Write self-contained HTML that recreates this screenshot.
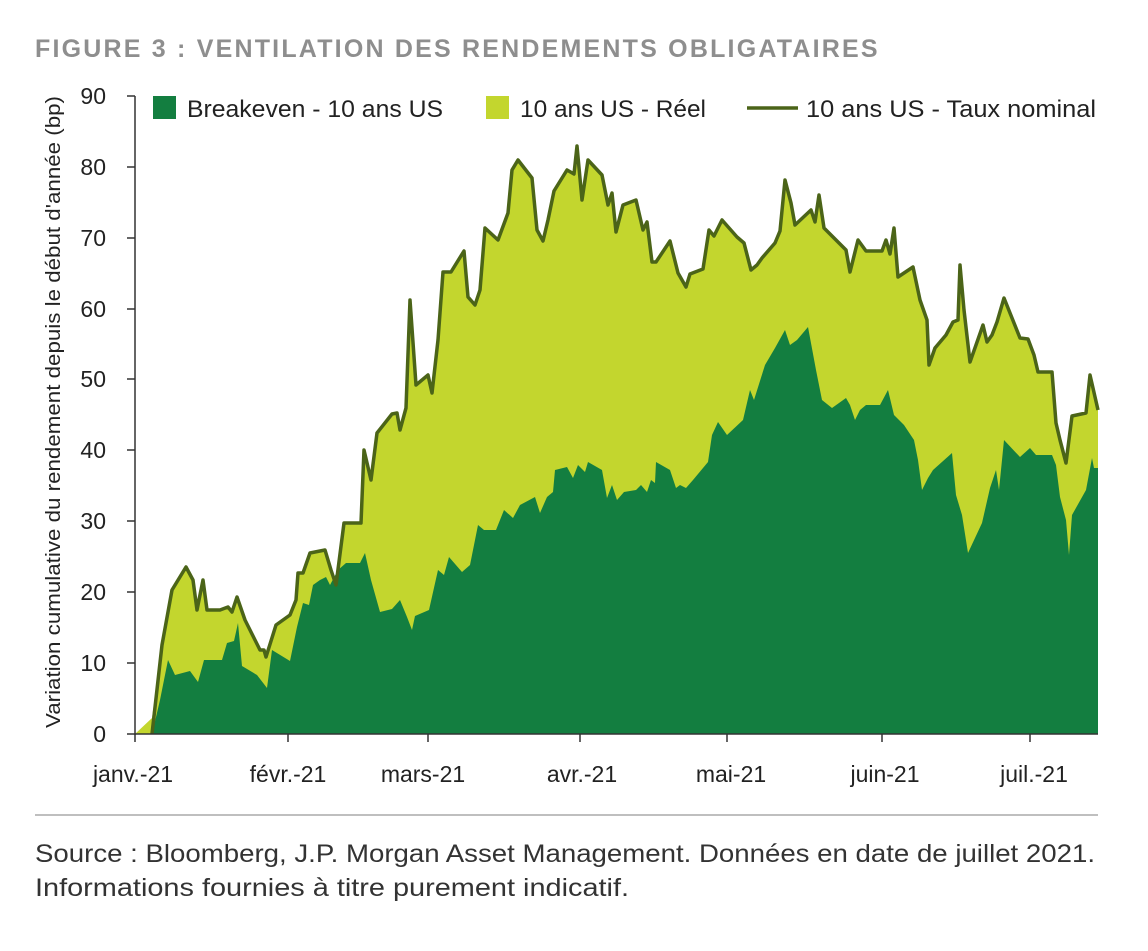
<!DOCTYPE html><html><head><style>
body{margin:0;background:#fff;width:1148px;height:946px;overflow:hidden;font-family:"Liberation Sans",sans-serif;}
</style></head><body>
<svg width="1148" height="946" xmlns="http://www.w3.org/2000/svg" style="font-family:'Liberation Sans',sans-serif">
<text x="35" y="57" font-size="25" font-weight="bold" fill="#8e8e8e" letter-spacing="2.2">FIGURE 3 : VENTILATION DES RENDEMENTS OBLIGATAIRES</text>
<polygon fill="#c3d62e" points="135,734 152,718 162,645 172,590 186,567 193,580 197,610 203,580 207,610 220,610 228,607 232,612 237,597 245,620 255,640 260,650 264,650 266,657 276,625 290,615 296,600 298,573 303,573 310,553 325,550 331,570 336,585 344,523 361,523 364,450 371,480 377,433 392,414 397,413 400,430 406,408 410,300 416,385 428,375 432,393 438,340 443,272 451,272 464,251 468,297 475,305 480,290 485,228 498,240 508,213 512,170 518,160 532,178 537,230 543,241 548,220 554,191 567,170 574,174 577,146 582,200 588,160 602,175 608,205 612,193 616,232 623,205 636,200 643,230 647,222 652,262 656,262 670,241 678,273 686,287 690,274 703,269 709,230 714,236 722,220 737,237 744,243 751,270 757,265 762,258 775,243 780,231 785,180 791,203 795,225 811,210 815,222 819,195 824,228 833,237 846,250 850,272 858,240 866,251 882,251 886,240 890,254 894,228 898,277 913,267 920,300 927,320 929,365 935,348 946,335 953,322 958,320 960,265 964,310 970,362 976,345 983,325 987,342 992,335 997,322 1004,298 1020,338 1028,339 1034,355 1038,372 1052,372 1056,423 1060,440 1066,463 1072,416 1086,413 1090,375 1098,410 1098,734"/>
<polygon fill="#137e40" points="135,734 152,734 160,700 168,660 175,675 190,671 198,682 204,660 222,660 227,643 234,641 238,623 242,666 257,675 267,688 272,650 290,661 297,627 303,603 309,605 313,585 320,580 326,577 330,585 338,570 346,563 360,563 365,553 371,580 380,612 392,609 400,600 407,617 412,630 415,616 429,610 438,570 444,575 449,557 462,572 470,565 478,525 484,530 496,530 504,510 513,518 520,505 535,497 540,513 547,497 553,492 555,470 567,467 573,478 578,465 585,472 588,462 602,470 607,498 612,485 617,500 624,492 636,490 641,485 647,492 651,480 655,483 656,462 670,470 676,488 680,485 686,488 693,480 708,462 712,435 718,422 727,435 743,420 750,390 754,400 765,365 775,348 785,330 790,345 797,340 808,327 816,370 822,400 832,408 846,398 850,405 855,420 860,410 866,405 880,405 888,390 894,415 904,425 914,440 918,460 922,490 928,478 933,470 952,453 956,495 962,515 968,553 982,523 990,488 996,470 999,490 1004,440 1020,457 1030,448 1036,455 1052,455 1056,465 1060,497 1066,520 1069,555 1072,515 1086,490 1092,458 1094,468 1098,468 1098,734"/>
<polyline fill="none" stroke="#4b6418" stroke-width="3.5" stroke-linejoin="round" points="152,734 162,645 172,590 186,567 193,580 197,610 203,580 207,610 220,610 228,607 232,612 237,597 245,620 255,640 260,650 264,650 266,657 276,625 290,615 296,600 298,573 303,573 310,553 325,550 331,570 336,585 344,523 361,523 364,450 371,480 377,433 392,414 397,413 400,430 406,408 410,300 416,385 428,375 432,393 438,340 443,272 451,272 464,251 468,297 475,305 480,290 485,228 498,240 508,213 512,170 518,160 532,178 537,230 543,241 548,220 554,191 567,170 574,174 577,146 582,200 588,160 602,175 608,205 612,193 616,232 623,205 636,200 643,230 647,222 652,262 656,262 670,241 678,273 686,287 690,274 703,269 709,230 714,236 722,220 737,237 744,243 751,270 757,265 762,258 775,243 780,231 785,180 791,203 795,225 811,210 815,222 819,195 824,228 833,237 846,250 850,272 858,240 866,251 882,251 886,240 890,254 894,228 898,277 913,267 920,300 927,320 929,365 935,348 946,335 953,322 958,320 960,265 964,310 970,362 976,345 983,325 987,342 992,335 997,322 1004,298 1020,338 1028,339 1034,355 1038,372 1052,372 1056,423 1060,440 1066,463 1072,416 1086,413 1090,375 1098,410"/>
<g stroke="#333" stroke-width="1.5" fill="none">
<line x1="135" y1="96" x2="135" y2="735"/>
<line x1="135" y1="734" x2="1098" y2="734"/>
<path d="M127,96H135M127,167H135M127,238H135M127,309H135M127,379H135M127,450H135M127,521H135M127,592H135M127,663H135M127,734H135"/>
<path d="M135,734V742M288,734V742M428,734V742M580,734V742M727,734V742M882,734V742M1030,734V742"/>
</g>
<g font-size="23" fill="#222" text-anchor="end">
<text x="106" y="104">90</text><text x="106" y="175">80</text><text x="106" y="246">70</text><text x="106" y="317">60</text><text x="106" y="387">50</text><text x="106" y="458">40</text><text x="106" y="529">30</text><text x="106" y="600">20</text><text x="106" y="671">10</text><text x="106" y="742">0</text>
</g>
<g font-size="23" fill="#222" text-anchor="middle">
<text x="133" y="782">janv.-21</text><text x="288" y="782">févr.-21</text><text x="423" y="782">mars-21</text><text x="582" y="782">avr.-21</text><text x="731" y="782">mai-21</text><text x="885" y="782">juin-21</text><text x="1034" y="782">juil.-21</text>
</g>
<text transform="translate(60,728) rotate(-90)" font-size="20" fill="#222" textLength="632" lengthAdjust="spacingAndGlyphs">Variation cumulative du rendement depuis le début d'année (bp)</text>
<rect x="153" y="96" width="23" height="23" fill="#137e40"/>
<text x="187" y="117" font-size="24" fill="#222" textLength="256" lengthAdjust="spacingAndGlyphs">Breakeven - 10 ans US</text>
<rect x="486" y="96" width="23" height="23" fill="#c3d62e"/>
<text x="520" y="117" font-size="24" fill="#222" textLength="186" lengthAdjust="spacingAndGlyphs">10 ans US - Réel</text>
<line x1="747" y1="108" x2="798" y2="108" stroke="#4b6418" stroke-width="3.5"/>
<text x="806" y="117" font-size="24" fill="#222" textLength="290" lengthAdjust="spacingAndGlyphs">10 ans US - Taux nominal</text>
<line x1="35" y1="815" x2="1098" y2="815" stroke="#999" stroke-width="1.2"/>
<text x="35" y="862" font-size="25" fill="#333" textLength="1060" lengthAdjust="spacingAndGlyphs">Source : Bloomberg, J.P. Morgan Asset Management. Données en date de juillet 2021.</text>
<text x="35" y="896" font-size="25" fill="#333" textLength="594" lengthAdjust="spacingAndGlyphs">Informations fournies à titre purement indicatif.</text>
</svg>
</body></html>
